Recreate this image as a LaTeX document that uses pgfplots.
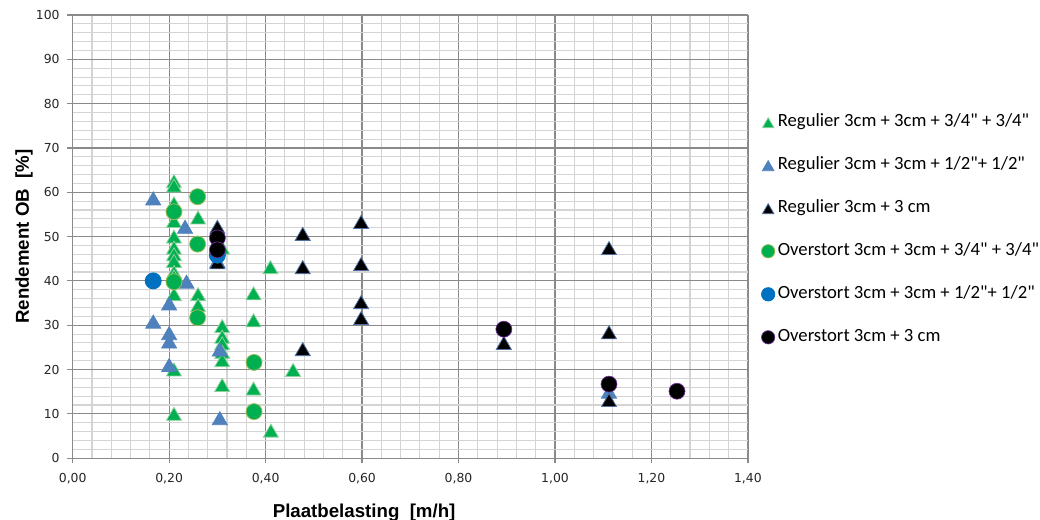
\documentclass[border=0pt]{standalone}
\usepackage{fontspec}
\usepackage{pgfplots}
\pgfplotsset{compat=1.18}
\newfontfamily\dejavu{DejaVu Sans}
\newfontfamily\libsans{Liberation Sans}
\newfontfamily\carlito{Carlito}
\definecolor{gtri}{HTML}{00B050}
\definecolor{gtriD}{HTML}{8FD19E}
\definecolor{btri}{HTML}{4F81BD}
\definecolor{ktriD}{HTML}{4F6FA0}
\definecolor{gcirD}{HTML}{9BBB59}
\definecolor{bcir}{HTML}{0070C0}
\definecolor{kcirD}{HTML}{7030A0}
\definecolor{majg}{HTML}{8A8A8A}
\definecolor{ming}{HTML}{D4D4D4}
\begin{document}
\begin{tikzpicture}
\begin{axis}[
  name=ax,
  scale only axis,
  width=506.25pt, height=332.25pt,
  xmin=0, xmax=1.4, ymin=0, ymax=100,
  xtick={0,0.2,0.4,0.6,0.8,1.0,1.2,1.4},
  ytick={0,10,20,30,40,50,60,70,80,90,100},
  minor xtick={0.04,0.08,0.12,0.16,0.24,0.28,0.32,0.36,0.44,0.48,0.52,0.56,0.64,0.68,0.72,0.76,0.84,0.88,0.92,0.96,1.04,1.08,1.12,1.16,1.24,1.28,1.32,1.36},
  minor ytick={2,4,6,8,12,14,16,18,22,24,26,28,32,34,36,38,42,44,46,48,52,54,56,58,62,64,66,68,72,74,76,78,82,84,86,88,92,94,96,98},
  grid=both,
  major grid style={majg, line width=0.9pt},
  minor grid style={ming, line width=0.8pt},
  axis line style={majg, line width=0.9pt},
  axis x line*=bottom, axis y line*=left,
  tick style={majg, line width=0.9pt},
  major tick length=4pt, minor tick length=0pt,
  tick align=outside,
  /pgf/number format/assume math mode=true,
  ticklabel style={font=\dejavu\fontsize{9.3}{11}\selectfont, text=black!85},
  xticklabel style={yshift=-4pt, /pgf/number format/.cd, fixed, fixed zerofill, precision=2, use comma},
  yticklabel style={xshift=-2.25pt, /pgf/number format/.cd, fixed, precision=0},
  legend style={at={(rel axis cs:1,1)}, anchor=north west, xshift=10pt, yshift=-73.7pt,
    draw=none, fill=none, font=\carlito\fontsize{14}{16}\selectfont,
    row sep=19.25pt, column sep=2.25pt, inner sep=0pt,
    nodes={inner sep=0pt, text height=10pt, text depth=3pt}},
  legend cell align=left,
  legend image code/.code={\draw[#1, mark size=5pt] plot coordinates {(0cm,0cm)};},
  clip=false,
]
% Regulier 3cm + 3cm + 3/4" + 3/4"
\addplot[only marks, mark=triangle*, mark size=6.5pt,
  mark options={fill=gtri, draw=gtriD, line width=0.6pt, yshift=-1.6pt}] coordinates {
 (0.21,62.5) (0.21,61.5) (0.21,57.5) (0.21,53.5) (0.21,50) (0.21,47.5) (0.21,46)
 (0.21,44.5) (0.21,42) (0.21,41) (0.21,37) (0.21,20) (0.21,10)
 (0.26,54.3) (0.26,37) (0.26,34.5)
 (0.31,47.5) (0.31,29.8) (0.31,27.4) (0.31,25.9) (0.31,24) (0.31,22.1) (0.31,16.5)
 (0.375,37.2) (0.375,31.1) (0.375,15.7)
 (0.41,43.1) (0.457,19.9) (0.411,6.2)
};
\addlegendentry{Regulier 3cm + 3cm + 3/4" + 3/4"}
% Regulier 3cm + 3cm + 1/2" + 1/2"
\addplot[only marks, mark=triangle*, mark size=6.5pt,
  mark options={fill=btri, draw=btri, line width=0.6pt, yshift=-1.6pt}] coordinates {
 (0.167,58.6) (0.233,52.2) (0.236,39.8) (0.2,34.9) (0.167,30.8)
 (0.2,28.2) (0.2,26.3) (0.2,21) (0.305,24.5) (0.305,9.0) (0.30,44.5) (1.112,15)
};
\addlegendentry{Regulier 3cm + 3cm + 1/2"+ 1/2"}
% Regulier 3cm + 3 cm
\addplot[only marks, mark=triangle*, mark size=6.5pt,
  mark options={fill=black, draw=ktriD, line width=0.6pt, yshift=-1.6pt}] coordinates {
 (0.30,52.2) (0.30,44.2)
 (0.477,50.6) (0.477,43.1) (0.477,24.6)
 (0.598,53.3) (0.598,43.8) (0.598,35.2) (0.598,31.6)
 (0.894,26) (1.112,47.4) (1.112,28.4) (1.112,13.1)
};
\addlegendentry{Regulier 3cm + 3 cm}
% Overstort 3cm + 3cm + 3/4" + 3/4"
\addplot[only marks, mark=*, mark size=6pt,
  mark options={fill=gtri, draw=gcirD, line width=0.6pt}] coordinates {
 (0.21,55.6) (0.21,39.8) (0.259,59) (0.259,48.3) (0.259,31.7) (0.376,21.6) (0.376,10.5)
};
\addlegendentry{Overstort 3cm + 3cm + 3/4" + 3/4"}
% Overstort 3cm + 3cm + 1/2" + 1/2"
\addplot[only marks, mark=*, mark size=6pt,
  mark options={fill=bcir, draw=bcir, line width=0.6pt}] coordinates {
 (0.167,40) (0.30,45.8)
};
\addlegendentry{Overstort 3cm + 3cm + 1/2"+ 1/2"}
% Overstort 3cm + 3 cm
\addplot[only marks, mark=*, mark size=6pt,
  mark options={fill=black, draw=kcirD, line width=0.5pt}] coordinates {
 (0.30,49.7) (0.30,47) (0.894,29.1) (1.112,16.7) (1.253,15.1)
};
\addlegendentry{Overstort 3cm + 3 cm}
\end{axis}
\node[anchor=base, font=\libsans\bfseries\fontsize{14}{16}\selectfont]
  at ([xshift=218.5pt, yshift=-44.25pt]ax.south west) {Plaatbelasting\ \ [m/h]};
\node[rotate=90, anchor=base, font=\libsans\bfseries\fontsize{14}{16}\selectfont]
  at ([xshift=-32.8pt]ax.west) {Rendement OB\ \ [\%]};
\pgfresetboundingbox
\path[use as bounding box] ([shift={(-54.5pt,-45.75pt)}]ax.south west) rectangle ([shift={(219pt,11.25pt)}]ax.north east);
\end{tikzpicture}
\end{document}
